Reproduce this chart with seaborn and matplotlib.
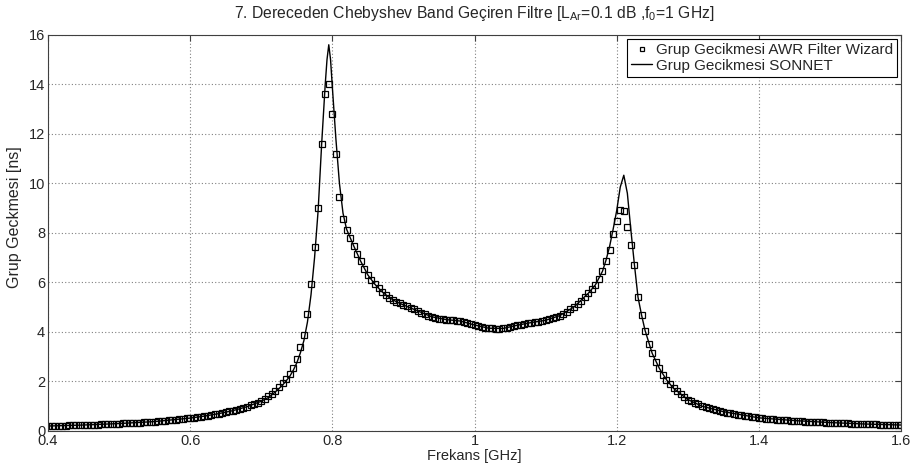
import numpy as np
import pandas as pd
import matplotlib
matplotlib.use("Agg")
import matplotlib.pyplot as plt
import seaborn as sns
from matplotlib.ticker import FormatStrFormatter

# frekans ekseni (GHz), AWR verisi 0.005 GHz adimli
frekans = np.round(np.arange(0.400, 1.6001, 0.005), 3)

# AWR Filter Wizard grup gecikmesi (ns), parca parca
awr_0400_0600 = [0.20, 0.20, 0.21, 0.21, 0.22, 0.22, 0.23, 0.23, 0.24, 0.24,
                 0.24, 0.25, 0.25, 0.26, 0.26, 0.27, 0.28, 0.28, 0.29, 0.29,
                 0.30, 0.31, 0.31, 0.32, 0.33, 0.34, 0.34, 0.35, 0.36, 0.37,
                 0.38, 0.39, 0.41, 0.42, 0.43, 0.45, 0.46, 0.48, 0.49, 0.51,
                 0.52]
awr_0605_0700 = [0.54, 0.56, 0.58, 0.60, 0.62, 0.64, 0.67, 0.70, 0.73, 0.76,
                 0.79, 0.82, 0.86, 0.90, 0.94, 0.98, 1.03, 1.08, 1.13, 1.20]
awr_0705_0820 = [1.29, 1.40, 1.50, 1.63, 1.76, 1.92, 2.10, 2.30, 2.55, 2.92,
                 3.38, 3.88, 4.72, 5.95, 7.45, 9.00, 11.60, 13.60, 14.00, 12.80,
                 11.20, 9.45, 8.55, 8.10]
awr_0825_1185 = [7.78, 7.48, 7.15, 6.85, 6.55, 6.30, 6.10, 5.92, 5.77, 5.62,
                 5.50, 5.39, 5.30, 5.22, 5.15, 5.09, 5.03, 4.97, 4.91, 4.85,
                 4.78, 4.72, 4.66, 4.61, 4.57, 4.54, 4.52, 4.50, 4.49, 4.48,
                 4.46, 4.44, 4.41, 4.37, 4.33, 4.28, 4.24, 4.20, 4.17, 4.15,
                 4.14, 4.13, 4.13, 4.14, 4.16, 4.19, 4.23, 4.27, 4.30, 4.33,
                 4.36, 4.38, 4.40, 4.42, 4.44, 4.47, 4.51, 4.55, 4.60, 4.66,
                 4.73, 4.82, 4.91, 5.01, 5.12, 5.25, 5.40, 5.56, 5.72, 5.90,
                 6.15, 6.45, 6.85]
awr_1190_1295 = [7.30, 7.95, 8.50, 8.93, 8.88, 8.25, 7.50, 6.70, 5.42, 4.68,
                 4.05, 3.50, 3.13, 2.80, 2.53, 2.27, 2.07, 1.88, 1.72, 1.60,
                 1.48, 1.37]
awr_1300_1600 = [1.27, 1.20, 1.13, 1.07, 1.01, 0.96, 0.92, 0.88, 0.84, 0.80,
                 0.77, 0.74, 0.71, 0.68, 0.66, 0.63, 0.61, 0.59, 0.57, 0.55,
                 0.53, 0.52, 0.50, 0.49, 0.47, 0.46, 0.45, 0.44, 0.43, 0.42,
                 0.41, 0.40, 0.39, 0.38, 0.38, 0.37, 0.36, 0.35, 0.35, 0.34,
                 0.34, 0.33, 0.32, 0.32, 0.31, 0.31, 0.30, 0.30, 0.29, 0.29,
                 0.28, 0.28, 0.27, 0.27, 0.26, 0.26, 0.26, 0.25, 0.25, 0.25,
                 0.24]
awr = (awr_0400_0600 + awr_0605_0700 + awr_0705_0820 + awr_0825_1185
       + awr_1190_1295 + awr_1300_1600)

# SONNET grup gecikmesi
sonnet_f = [0.40, 0.45, 0.50, 0.55, 0.60, 0.62, 0.64, 0.66, 0.68, 0.70,
            0.71, 0.72, 0.73, 0.74, 0.745, 0.75, 0.755, 0.76, 0.765, 0.77,
            0.775, 0.78, 0.785, 0.79, 0.7925, 0.795, 0.7975, 0.80, 0.805, 0.81,
            0.815, 0.82, 0.83, 0.84, 0.85, 0.86, 0.87, 0.88, 0.89, 0.90,
            0.92, 0.94, 0.96, 0.98, 1.00, 1.02, 1.04, 1.06, 1.08, 1.10,
            1.12, 1.14, 1.16, 1.17, 1.18, 1.185, 1.19, 1.195, 1.20, 1.205,
            1.21, 1.215, 1.22, 1.225, 1.23, 1.235, 1.24, 1.25, 1.26, 1.27,
            1.28, 1.30, 1.32, 1.35, 1.40, 1.45, 1.50, 1.55, 1.60]
sonnet = [0.20, 0.24, 0.30, 0.38, 0.52, 0.60, 0.70, 0.82, 0.98, 1.20,
          1.35, 1.58, 1.85, 2.20, 2.45, 2.75, 3.15, 3.65, 4.40, 5.50,
          7.00, 8.90, 11.60, 14.00, 15.00, 15.60, 15.00, 13.90, 11.80, 10.00,
          8.80, 8.15, 7.48, 6.85, 6.30, 5.92, 5.62, 5.39, 5.22, 5.09,
          4.85, 4.61, 4.50, 4.44, 4.28, 4.15, 4.14, 4.27, 4.38, 4.47,
          4.66, 5.01, 5.56, 5.90, 6.45, 6.90, 7.45, 8.15, 8.90, 9.85,
          10.33, 9.60, 8.10, 6.70, 5.40, 4.68, 4.05, 3.13, 2.53, 2.07,
          1.72, 1.27, 1.00, 0.78, 0.53, 0.42, 0.34, 0.28, 0.24]

df_awr = pd.DataFrame({'Frekans': frekans, 'Gecikme': awr})
df_son = pd.DataFrame({'Frekans': sonnet_f, 'Gecikme': sonnet})

sns.set_style("white")
plt.rcParams['font.family'] = ['Liberation Sans', 'DejaVu Sans']
plt.rcParams['mathtext.fontset'] = 'custom'
plt.rcParams['mathtext.rm'] = 'Liberation Sans'
plt.rcParams['mathtext.it'] = 'Liberation Sans:italic'

fig = plt.figure(figsize=(9.12, 4.71), dpi=100)
ax = fig.add_axes([0.0526, 0.085, 0.9354, 0.841])

sns.lineplot(data=df_awr, x='Frekans', y='Gecikme', ax=ax, sort=False,
             estimator=None, linestyle='none', marker='s', markersize=4.5,
             markerfacecolor='none', markeredgecolor='black', markeredgewidth=0.9,
             color='black', label='Grup Gecikmesi AWR Filter Wizard')
sns.lineplot(data=df_son, x='Frekans', y='Gecikme', ax=ax, sort=False,
             estimator=None, color='black', linewidth=1.0,
             label='Grup Gecikmesi SONNET')

ax.set_xlim(0.4, 1.6)
ax.set_ylim(0, 16)
ax.set_xticks([0.4, 0.6, 0.8, 1.0, 1.2, 1.4, 1.6])
ax.set_yticks(range(0, 17, 2))
ax.xaxis.set_major_formatter(FormatStrFormatter('%g'))
ax.grid(True, color='#808080', linestyle=(0, (1, 2)), linewidth=0.8)
for s in ax.spines.values():
    s.set_color('#404040')
    s.set_linewidth(0.8)
ax.tick_params(direction='in', length=4, labelsize=10.5, color='#404040',
               top=True, right=True, pad=2)

ax.set_xlabel('Frekans [GHz]', fontsize=10.5, labelpad=1)
ax.set_ylabel('Grup Geckmesi [ns]', fontsize=11.5)
ax.yaxis.set_label_coords(-0.031, 0.54)
ax.set_title('7. Dereceden Chebyshev Band Geçiren Filtre '
             '[L$_{\\rm Ar}$=0.1 dB ,f$_{\\rm 0}$=1 GHz]', fontsize=11.3, pad=12)

leg = ax.legend(loc='upper right', fontsize=11, frameon=True, fancybox=False,
                edgecolor='black', framealpha=1, numpoints=1, handlelength=1.4,
                handletextpad=0.2, borderpad=0.3, labelspacing=0.1,
                borderaxespad=0.25)
leg.get_frame().set_linewidth(0.8)
leg.legend_handles[0].set_markersize(3.5)

fig.savefig('out.png', dpi=100)
